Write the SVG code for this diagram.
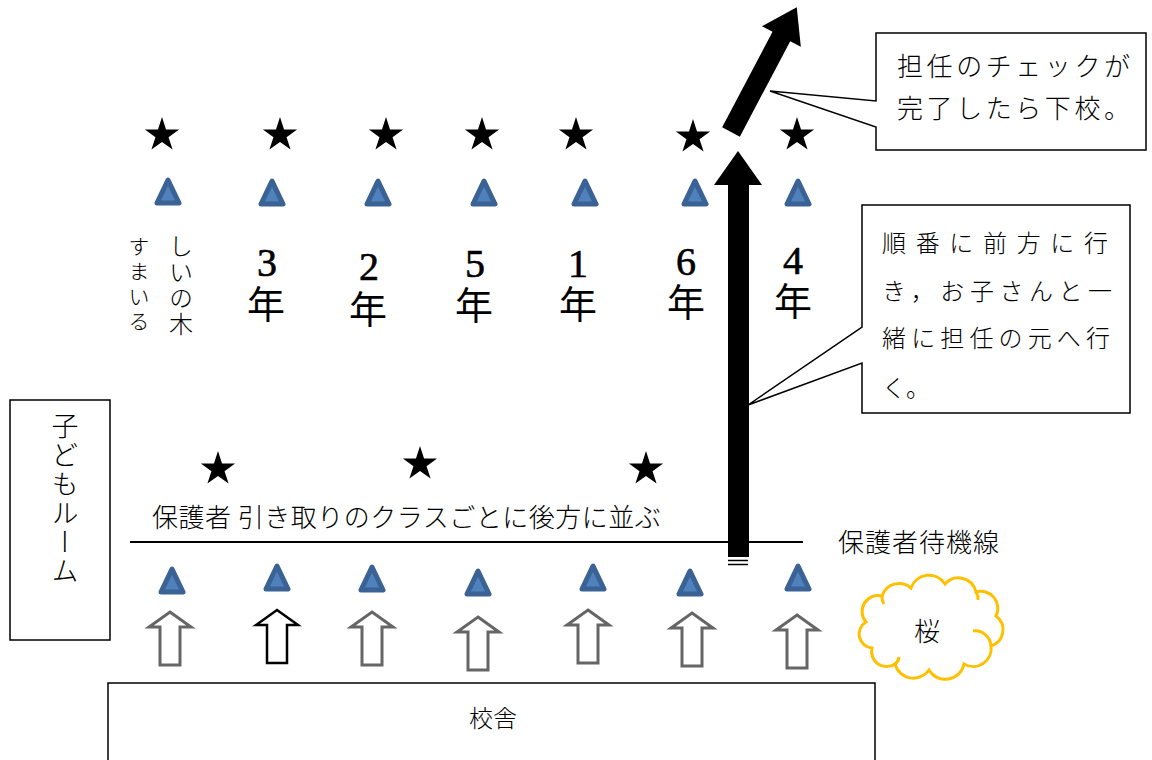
<svg xmlns="http://www.w3.org/2000/svg" xmlns:xlink="http://www.w3.org/1999/xlink" width="1152" height="760" viewBox="0 0 1152 760">
<defs>
<style>
.jp{font-family:"Noto Sans CJK JP","Noto Sans",sans-serif;fill:#000;font-weight:300}
.cls{text-anchor:middle;fill:#000}
.num{font-family:"Liberation Serif",serif;font-size:40px;stroke:#000;stroke-width:0.6}
.nen{font-family:"Noto Sans CJK JP",sans-serif;font-size:38px;font-weight:400;stroke:none}
.box{fill:#fff;stroke:#000;stroke-width:1.5}
.cone{fill:#4f81bd;stroke:#3a6294;stroke-width:5;stroke-linejoin:round}
.harrow{fill:#fff;stroke:#666;stroke-width:3;stroke-linejoin:miter}
.vt{writing-mode:vertical-rl}
</style>
<polygon id="star" points="0,-18 4.04,-5.57 17.12,-5.56 6.54,2.13 10.58,14.56 0,6.88 -10.58,14.56 -6.54,2.13 -17.12,-5.56 -4.04,-5.57" fill="#000"/>
<path id="cone" class="cone" d="M0,-11 L11,12 L-11,12 Z"/>
<path id="harrow" d="M0,0 L21,15 L10,15 L10,53 L-10,53 L-10,15 L-21,15 Z"/>
</defs>
<rect width="1152" height="760" fill="#fff"/>

<g id="stars-top">
<use xlink:href="#star" x="162" y="135"/>
<use xlink:href="#star" x="280" y="135"/>
<use xlink:href="#star" x="386" y="135"/>
<use xlink:href="#star" x="482" y="135"/>
<use xlink:href="#star" x="576" y="135"/>
<use xlink:href="#star" x="693" y="137"/>
<use xlink:href="#star" x="797" y="135"/>
</g>

<g id="cones-top">
<use xlink:href="#cone" x="168" y="191"/>
<use xlink:href="#cone" x="272" y="192"/>
<use xlink:href="#cone" x="378" y="192"/>
<use xlink:href="#cone" x="484" y="192"/>
<use xlink:href="#cone" x="585" y="192"/>
<use xlink:href="#cone" x="695" y="192"/>
<use xlink:href="#cone" x="798" y="192"/>
</g>

<g id="class-labels">
<text class="jp vt" x="181" y="234" font-size="24" letter-spacing="2">しいの木</text>
<text class="jp vt" x="139" y="236" font-size="21" letter-spacing="4" font-weight="500">すまいる</text>
<text class="cls"><tspan class="num" x="267" y="276">3</tspan><tspan class="nen" x="266" y="318">年</tspan></text>
<text class="cls"><tspan class="num" x="369" y="280">2</tspan><tspan class="nen" x="368" y="323">年</tspan></text>
<text class="cls"><tspan class="num" x="475" y="277">5</tspan><tspan class="nen" x="474" y="319">年</tspan></text>
<text class="cls"><tspan class="num" x="578" y="277">1</tspan><tspan class="nen" x="578" y="318">年</tspan></text>
<text class="cls"><tspan class="num" x="686" y="275">6</tspan><tspan class="nen" x="686" y="316">年</tspan></text>
<text class="cls"><tspan class="num" x="793" y="274">4</tspan><tspan class="nen" x="793" y="315">年</tspan></text>
</g>

<g id="kids-room">
<rect class="box" x="10" y="400" width="100" height="240"/>
<text class="jp vt" x="65" y="412" font-size="27" letter-spacing="2">子どもルーム</text>
</g>

<g id="stars-bottom">
<use xlink:href="#star" x="218" y="469"/>
<use xlink:href="#star" x="420" y="464"/>
<use xlink:href="#star" x="646" y="469"/>
</g>

<g id="guardian-label">
<text class="jp" x="152" y="527" font-size="26" letter-spacing="0.5">保護者 引き取りのクラスごとに後方に並ぶ</text>
</g>

<g id="wait-line">
<line x1="130" y1="542" x2="803" y2="542" stroke="#000" stroke-width="2"/>
<text class="jp" x="838" y="552" font-size="26" letter-spacing="1">保護者待機線</text>
</g>

<g id="cones-bottom">
<use xlink:href="#cone" x="172" y="580"/>
<use xlink:href="#cone" x="277" y="577"/>
<use xlink:href="#cone" x="372" y="578"/>
<use xlink:href="#cone" x="478" y="582"/>
<use xlink:href="#cone" x="593" y="577"/>
<use xlink:href="#cone" x="690" y="582"/>
<use xlink:href="#cone" x="798" y="577"/>
</g>

<g id="hollow-arrows">
<use xlink:href="#harrow" class="harrow" x="170" y="612"/>
<use xlink:href="#harrow" x="277" y="610" fill="#fff" stroke="#000" stroke-width="2.5"/>
<use xlink:href="#harrow" class="harrow" x="372" y="612"/>
<use xlink:href="#harrow" class="harrow" x="478" y="617"/>
<use xlink:href="#harrow" class="harrow" x="588" y="610"/>
<use xlink:href="#harrow" class="harrow" x="692" y="613"/>
<use xlink:href="#harrow" class="harrow" x="797" y="615"/>
</g>

<g id="school">
<rect class="box" x="108" y="683" width="767" height="100"/>
<text class="jp" x="493" y="727" font-size="24" text-anchor="middle">校舎</text>
</g>

<g id="sakura">
<path d="M866,622 A16,16 0 0 1 882,596 A18,18 0 0 1 911,588 A19,19 0 0 1 945,584 A18,18 0 0 1 976,592 A17,17 0 0 1 996,616 A17,17 0 0 1 991,646 A18,18 0 0 1 964,664 A19,19 0 0 1 929,670 A19,19 0 0 1 895,664 A15,15 0 0 1 872,648 A14,14 0 0 1 866,622 Z" fill="#fff" stroke="#ffc000" stroke-width="3"/>
<path d="M882,596 A14,14 0 0 0 884,604 M976,592 A12,12 0 0 1 978,600 M991,646 A16,16 0 0 0 973,631 M895,664 A10,10 0 0 0 899,657" fill="none" stroke="#ffc000" stroke-width="3"/>
<text class="jp" x="927" y="641" font-size="26" text-anchor="middle">桜</text>
</g>

<g id="connectors">
<path d="M738,151 L762,185 L749,185 L749,557 L728,557 L728,185 L714,185 Z" fill="#000"/>
<line x1="728" y1="560.5" x2="748" y2="560.5" stroke="#000" stroke-width="1.5"/>
<line x1="728" y1="564.5" x2="748" y2="564.5" stroke="#000" stroke-width="1.5"/>
<path transform="translate(731,132) rotate(27.8)" d="M-10,0 L-10,-108 L-22,-108 L0,-141 L22,-108 L10,-108 L10,0 Z" fill="#000"/>
</g>

<g id="callout-check">
<path class="box" d="M876,33 L1146,33 L1146,150 L876,150 L876,127 L770,91 L876,101 Z"/>
<text class="jp" x="897" y="76" font-size="26" textLength="233" lengthAdjust="spacing">担任のチェックが</text>
<text class="jp" x="897" y="118" font-size="26" textLength="233" lengthAdjust="spacing">完了したら下校。</text>
</g>

<g id="callout-order">
<path class="box" d="M862,205 L1130,205 L1130,413 L862,413 L862,363 L748,405 L862,327 Z"/>
<text class="jp" x="882" y="252" font-size="24" textLength="226" lengthAdjust="spacing">順番に前方に行</text>
<text class="jp" x="882" y="300" font-size="24" textLength="230" lengthAdjust="spacing">き，お子さんと一</text>
<text class="jp" x="882" y="347" font-size="24" textLength="228" lengthAdjust="spacing">緒に担任の元へ行</text>
<text class="jp" x="882" y="397" font-size="24">く。</text>
</g>
</svg>
